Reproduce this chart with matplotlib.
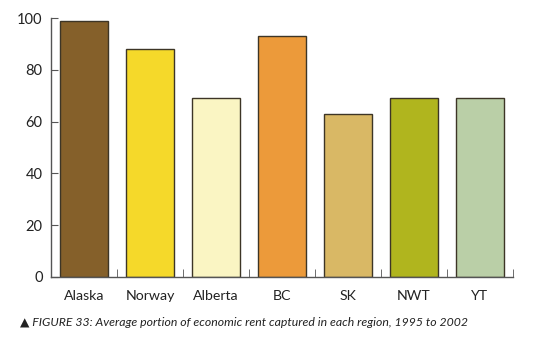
import numpy as np
import matplotlib.pyplot as plt

# ---------------------------------------------- Data
regions = ['Alaska', 'Norway', 'Alberta', 'BC', 'SK', 'NWT', 'YT']
rent_captured = [99, 88, 69, 93, 63, 69, 69]
bar_colors = ['#85602A', '#F5D92A', '#FAF5C3', '#EC9A3A', '#D9B865', '#B0B51E', '#BACFA7']
y_ticks = [0, 20, 40, 60, 80, 100]
caption = '\u25B2 FIGURE 33: Average portion of economic rent captured in each region, 1995 to 2002'

# ---------------------------------------------- Plot
plt.rcParams['font.family'] = ['Lato', 'DejaVu Sans']

fig = plt.figure(figsize=(5.54, 3.47), dpi=100)
ax = fig.add_axes([51/554, 1 - 277/347, 462/554, 259/347])

x = np.arange(len(regions))
ax.bar(x, rent_captured, width=0.73, color=bar_colors,
       edgecolor='#3d3526', linewidth=1.0, zorder=2)

ax.set_xlim(-0.5, len(regions) - 0.5)
ax.set_ylim(0, 100)
ax.set_yticks(y_ticks)
ax.set_xticks(x)
ax.set_xticklabels(regions)
# small ticks between the bars and at the right end of the axis
ax.set_xticks(list(x[1:] - 0.5) + [len(regions) - 0.5], minor=True)

for side in ['top', 'right']:
    ax.spines[side].set_visible(False)
for side in ['left', 'bottom']:
    ax.spines[side].set_color('#555555')
    ax.spines[side].set_linewidth(1.0)

ax.tick_params(axis='x', which='major', length=0, pad=9, labelsize=10.2, colors='#222222')
ax.tick_params(axis='x', which='minor', direction='in', length=6, color='#555555')
ax.tick_params(axis='y', direction='in', length=5, pad=6, labelsize=10.5,
               color='#555555', labelcolor='#222222')

fig.text(20/554, 1 - 322/347, caption, fontsize=8.8, style='italic',
         color='#222222', va='center', ha='left')

fig.savefig('out.png', dpi=100)
